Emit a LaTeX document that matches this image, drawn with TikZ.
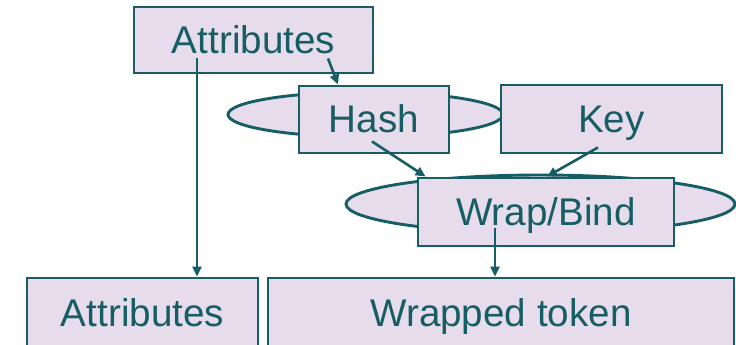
\documentclass[tikz,border=0pt]{standalone}
\usepackage{fontspec}
\setmainfont{Liberation Sans}
\usetikzlibrary{shapes.geometric,arrows.meta,calc}
\definecolor{teal}{RGB}{22,94,100}
\definecolor{lav}{RGB}{230,220,236}
\begin{document}
\begin{tikzpicture}[x=1pt,y=-1pt,
  box/.style={draw=teal,fill=lav,line width=2.9pt,rectangle,inner sep=0pt,
    text=teal,font=\fontsize{38.6}{46}\selectfont,text height=30pt,text depth=4pt},
  oval/.style={draw=teal,fill=lav,line width=2.9pt,ellipse,inner sep=0pt},
  link/.style={draw=teal,line width=2.6pt,-{Triangle[length=10pt,width=9pt]}}]
\useasboundingbox (0,0) rectangle (736,345);
\clip (0,0) rectangle (736,345);
\fill[white] (0,0) rectangle (736,345);

% upper row: hash with its oval, key
\node[oval,minimum width=275pt,minimum height=45pt] (hashoval) at (365.5,114.5) {};
\node[box,minimum width=150pt,minimum height=67pt] (hash) at (374,119.5) {Hash};
\node[box,minimum width=221pt,minimum height=68pt] (key) at (611.5,119) {Key};

% wrap/bind step with its oval
\node[oval,minimum width=389pt,minimum height=58pt] (wrapoval) at (540.5,204) {};
\node[box,minimum width=256pt,minimum height=68pt] (wrap) at (546,212) {Wrap/Bind};

% input attributes
\node[box,minimum width=239pt,minimum height=66pt] (attrtop) at (253.5,40) {Attributes};

% outputs
\node[box,minimum width=231pt,minimum height=70pt] (attrbot) at (142.5,313) {Attributes};
\node[box,minimum width=466pt,minimum height=70pt] (token) at (501,313) {Wrapped token};

% connectors
\draw[link] ($(attrtop.south)+(74.5,-16)$) -- ($(hash.north)+(-36,0)$);
\draw[link] ($(attrtop.south)+(-56.5,-16)$) -- ($(attrbot.north)+(54.5,0)$);
\draw[link] ($(hash.south)+(-2,-13)$) -- ($(wrap.north west)+(9,0)$);
\draw[link] ($(key.south)+(-13.5,-7)$) -- ($(wrap.north)+(1,0)$);
\draw[link] ($(wrap.south)+(-51,-19)$) -- ($(token.north)+(-6,0)$);
\end{tikzpicture}
\end{document}
